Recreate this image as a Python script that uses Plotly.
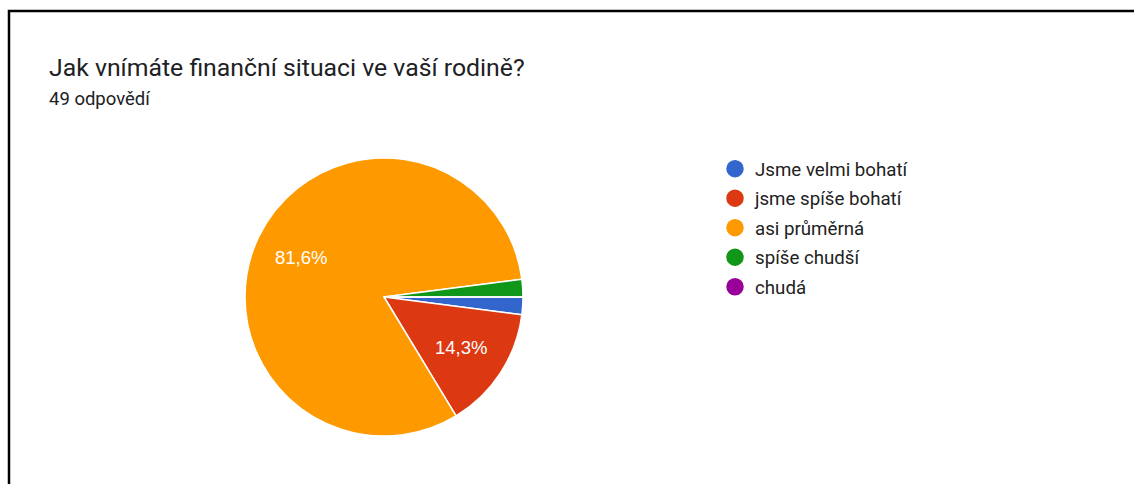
import math
import plotly.graph_objects as go

# Survey answers (49 responses)
categories = ["Jsme velmi bohatí", "jsme spíše bohatí", "asi průměrná", "spíše chudší", "chudá"]
counts = [1, 7, 40, 1, 0]
colors = ["#3366cc", "#dc3912", "#ff9900", "#109618", "#990099"]
# only the two large slices carry a percentage label
labelled = [False, True, True, False, False]

title_text = "Jak vnímáte finanční situaci ve vaší rodině?"
subtitle_text = "49 odpovědí"

W, H = 1134, 484

fig = go.Figure()

# pie: centre (384, 297), radius 139 px
cx, cy, r = 384, 297, 139
fig.add_trace(go.Pie(
    labels=categories,
    values=counts,
    sort=False,
    direction="clockwise",
    rotation=90,
    marker=dict(colors=colors, line=dict(color="white", width=1.5)),
    textinfo="none",
    showlegend=False,
    hoverinfo="label+percent",
    domain=dict(x=[(cx - r) / W, (cx + r) / W], y=[1 - (cy + r) / H, 1 - (cy - r) / H]),
))

# percentage labels placed at each slice's mid-angle (slices run clockwise from 3 o'clock)
total = sum(counts)
annotations = []
start = 0.0
for name, v, show in zip(categories, counts, labelled):
    frac = v / total
    if show:
        mid = (start + frac / 2) * 2 * math.pi
        lx = cx + 0.66 * r * math.cos(mid)
        ly = cy + 0.66 * r * math.sin(mid)
        annotations.append(dict(
            text=f"{frac * 100:.1f}%".replace(".", ","),
            xref="paper", yref="paper", x=lx / W, y=1 - ly / H,
            xanchor="center", yanchor="middle", showarrow=False,
            font=dict(family="Arial, Liberation Sans", size=18.5, color="white"),
        ))
    start += frac

# legend entries drawn as round markers
for i, (name, col) in enumerate(zip(categories, colors)):
    fig.add_trace(go.Scatter(
        x=[None], y=[None], mode="markers", name=name,
        legendgroup=f"g{i}",
        marker=dict(symbol="circle", size=16, color=col, line=dict(color=col, width=1.5)),
    ))

annotations += [
    dict(text=title_text, xref="paper", yref="paper", x=47 / W, y=1 - 67 / H,
         xanchor="left", yanchor="middle", showarrow=False,
         font=dict(family="Roboto", size=24.8, color="#202124")),
    dict(text=subtitle_text, xref="paper", yref="paper", x=47 / W, y=1 - 99 / H,
         xanchor="left", yanchor="middle", showarrow=False,
         font=dict(family="Roboto", size=18.5, color="#202124")),
]

fig.update_layout(
    width=W, height=H, autosize=False,
    margin=dict(l=0, r=0, t=0, b=0),
    paper_bgcolor="white", plot_bgcolor="white",
    xaxis=dict(visible=False), yaxis=dict(visible=False),
    legend=dict(
        x=715 / W, y=1 - 150 / H, xanchor="left", yanchor="top",
        font=dict(family="Roboto", size=18.7, color="#222222"),
        tracegroupgap=2.2, bgcolor="rgba(0,0,0,0)",
    ),
    annotations=annotations,
    shapes=[
        dict(type="rect", xref="paper", yref="paper",
             x0=9 / W, x1=1.02, y0=-0.02, y1=1 - 11 / H,
             line=dict(color="black", width=2.5), fillcolor="rgba(0,0,0,0)", layer="above"),
    ],
)

fig.write_html("out.html")
